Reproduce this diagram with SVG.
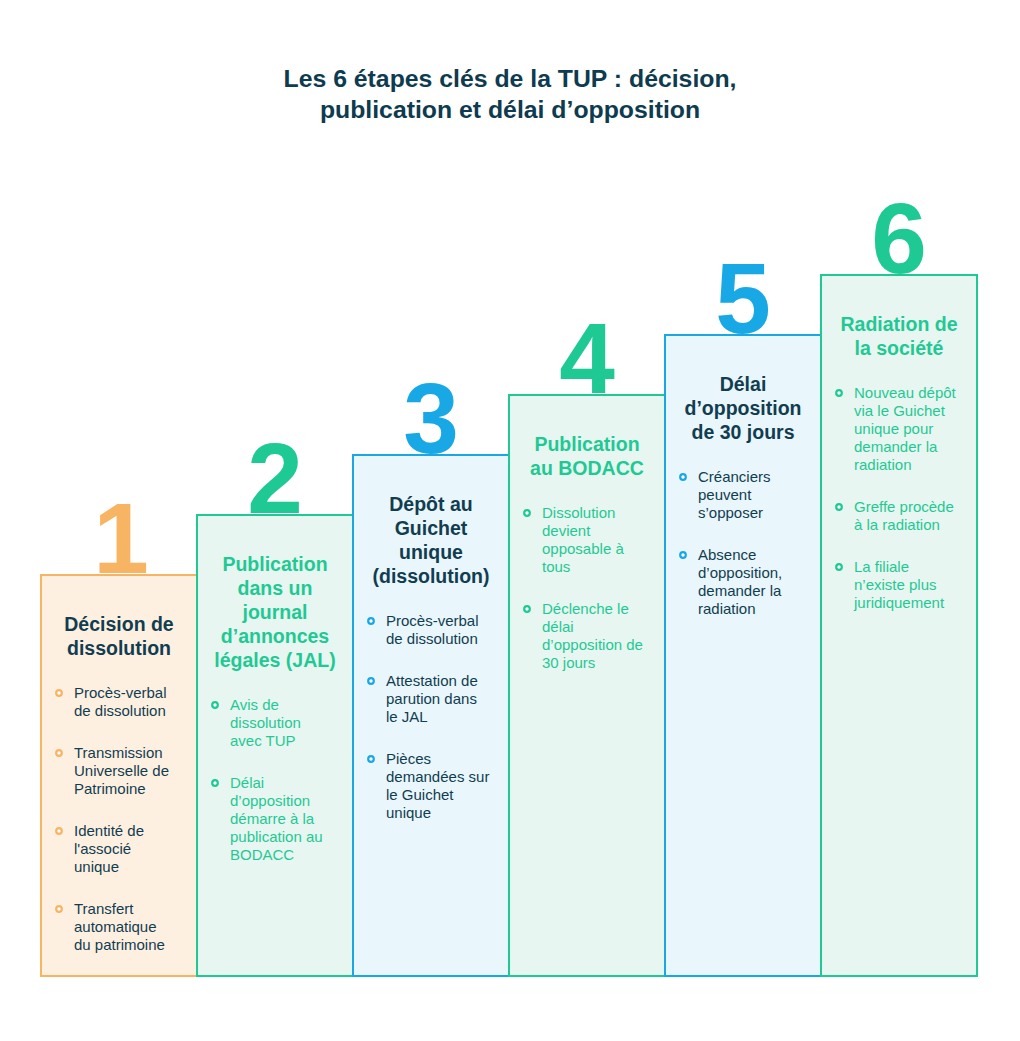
<svg xmlns="http://www.w3.org/2000/svg" width="1020" height="1041" viewBox="0 0 1020 1041">
<style>
text{font-family:"Liberation Sans",Arial,sans-serif}
.ttl{font-size:24.8px;font-weight:bold;fill:#0E3B4F;text-anchor:middle}
.num{font-size:100px;font-weight:bold;text-anchor:middle}
.h{font-size:19.5px;font-weight:bold;text-anchor:middle}
.b{font-size:15px}
.navy{fill:#123D50}
.green{fill:#1FC994}
.o{fill:#F7B463}
.bl{fill:#19A8E6}
.box{stroke-width:2}
.dot{fill:#ffffff;stroke-width:2.2}
</style>
<rect width="1020" height="1041" fill="#ffffff"/>
<text class="ttl" x="510" y="87">Les 6 étapes clés de la TUP : décision,</text>
<text class="ttl" x="510" y="118">publication et délai d’opposition</text>

<g id="step1">
<rect class="box" x="41" y="575" width="156" height="401" fill="#FEF0E1" stroke="#F7B463"/>
<text class="num o" x="121" y="573">1</text>
<text class="h navy" x="119"><tspan x="119" y="631">Décision de</tspan><tspan x="119" y="655">dissolution</tspan></text>
<g stroke="#F7B463"><circle class="dot" cx="59" cy="693" r="2.8"/><circle class="dot" cx="59" cy="753" r="2.8"/><circle class="dot" cx="59" cy="831" r="2.8"/><circle class="dot" cx="59" cy="909" r="2.8"/></g>
<text class="b navy"><tspan x="74" y="698">Procès-verbal</tspan><tspan x="74" y="716">de dissolution</tspan><tspan x="74" y="758">Transmission</tspan><tspan x="74" y="776">Universelle de</tspan><tspan x="74" y="794">Patrimoine</tspan><tspan x="74" y="836">Identité de</tspan><tspan x="74" y="854">l'associé</tspan><tspan x="74" y="872">unique</tspan><tspan x="74" y="914">Transfert</tspan><tspan x="74" y="932">automatique</tspan><tspan x="74" y="950">du patrimoine</tspan></text>
</g>

<g id="step2">
<rect class="box" x="197" y="515" width="156" height="461" fill="#E8F6F1" stroke="#1FC994"/>
<text class="num green" x="275" y="513">2</text>
<text class="h green"><tspan x="275" y="571">Publication</tspan><tspan x="275" y="595">dans un</tspan><tspan x="275" y="619">journal</tspan><tspan x="275" y="643">d’annonces</tspan><tspan x="275" y="667">légales (JAL)</tspan></text>
<g stroke="#1FC994"><circle class="dot" cx="215" cy="705" r="2.8"/><circle class="dot" cx="215" cy="783" r="2.8"/></g>
<text class="b green"><tspan x="230" y="710">Avis de</tspan><tspan x="230" y="728">dissolution</tspan><tspan x="230" y="746">avec TUP</tspan><tspan x="230" y="788">Délai</tspan><tspan x="230" y="806">d’opposition</tspan><tspan x="230" y="824">démarre à la</tspan><tspan x="230" y="842">publication au</tspan><tspan x="230" y="860">BODACC</tspan></text>
</g>

<g id="step3">
<rect class="box" x="353" y="455" width="156" height="521" fill="#E9F6FC" stroke="#19A8E6"/>
<text class="num bl" x="431" y="453">3</text>
<text class="h navy"><tspan x="431" y="511">Dépôt au</tspan><tspan x="431" y="535">Guichet</tspan><tspan x="431" y="559">unique</tspan><tspan x="431" y="583">(dissolution)</tspan></text>
<g stroke="#19A8E6"><circle class="dot" cx="371" cy="621" r="2.8"/><circle class="dot" cx="371" cy="681" r="2.8"/><circle class="dot" cx="371" cy="759" r="2.8"/></g>
<text class="b navy"><tspan x="386" y="626">Procès-verbal</tspan><tspan x="386" y="644">de dissolution</tspan><tspan x="386" y="686">Attestation de</tspan><tspan x="386" y="704">parution dans</tspan><tspan x="386" y="722">le JAL</tspan><tspan x="386" y="764">Pièces</tspan><tspan x="386" y="782">demandées sur</tspan><tspan x="386" y="800">le Guichet</tspan><tspan x="386" y="818">unique</tspan></text>
</g>

<g id="step4">
<rect class="box" x="509" y="395" width="156" height="581" fill="#E8F6F1" stroke="#1FC994"/>
<text class="num green" x="587" y="393">4</text>
<text class="h green"><tspan x="587" y="451">Publication</tspan><tspan x="587" y="475">au BODACC</tspan></text>
<g stroke="#1FC994"><circle class="dot" cx="527" cy="513" r="2.8"/><circle class="dot" cx="527" cy="609" r="2.8"/></g>
<text class="b green"><tspan x="542" y="518">Dissolution</tspan><tspan x="542" y="536">devient</tspan><tspan x="542" y="554">opposable à</tspan><tspan x="542" y="572">tous</tspan><tspan x="542" y="614">Déclenche le</tspan><tspan x="542" y="632">délai</tspan><tspan x="542" y="650">d’opposition de</tspan><tspan x="542" y="668">30 jours</tspan></text>
</g>

<g id="step5">
<rect class="box" x="665" y="335" width="156" height="641" fill="#E9F6FC" stroke="#19A8E6"/>
<text class="num bl" x="743" y="333">5</text>
<text class="h navy"><tspan x="743" y="391">Délai</tspan><tspan x="743" y="415">d’opposition</tspan><tspan x="743" y="439">de 30 jours</tspan></text>
<g stroke="#19A8E6"><circle class="dot" cx="683" cy="477" r="2.8"/><circle class="dot" cx="683" cy="555" r="2.8"/></g>
<text class="b navy"><tspan x="698" y="482">Créanciers</tspan><tspan x="698" y="500">peuvent</tspan><tspan x="698" y="518">s’opposer</tspan><tspan x="698" y="560">Absence</tspan><tspan x="698" y="578">d’opposition,</tspan><tspan x="698" y="596">demander la</tspan><tspan x="698" y="614">radiation</tspan></text>
</g>

<g id="step6">
<rect class="box" x="821" y="275" width="156" height="701" fill="#E8F6F1" stroke="#1FC994"/>
<text class="num green" x="899" y="273">6</text>
<text class="h green"><tspan x="899" y="331">Radiation de</tspan><tspan x="899" y="355">la société</tspan></text>
<g stroke="#1FC994"><circle class="dot" cx="839" cy="393" r="2.8"/><circle class="dot" cx="839" cy="507" r="2.8"/><circle class="dot" cx="839" cy="567" r="2.8"/></g>
<text class="b green"><tspan x="854" y="398">Nouveau dépôt</tspan><tspan x="854" y="416">via le Guichet</tspan><tspan x="854" y="434">unique pour</tspan><tspan x="854" y="452">demander la</tspan><tspan x="854" y="470">radiation</tspan><tspan x="854" y="512">Greffe procède</tspan><tspan x="854" y="530">à la radiation</tspan><tspan x="854" y="572">La filiale</tspan><tspan x="854" y="590">n’existe plus</tspan><tspan x="854" y="608">juridiquement</tspan></text>
</g>
<g id="connectors"></g>
</svg>
